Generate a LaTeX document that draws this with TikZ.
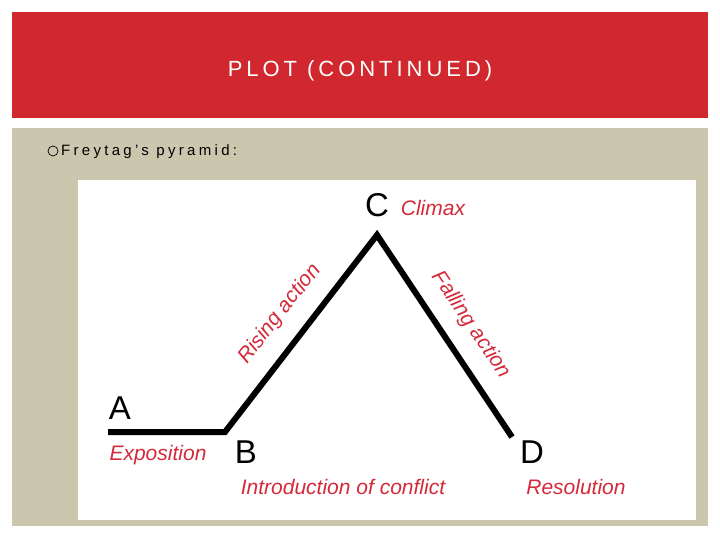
\documentclass[tikz,border=0pt]{standalone}
\usepackage{fontspec}
\setmainfont{Liberation Sans}
\definecolor{banner}{HTML}{D0282E}
\definecolor{panel}{HTML}{CBC7AF}
\definecolor{lab}{HTML}{D42A3A}
\begin{document}
\begin{tikzpicture}[x=1pt,y=-1pt,
  letter/.style={font=\fontsize{33}{33}\selectfont,text=black,inner sep=0},
  rlab/.style={font=\fontsize{21}{21}\selectfont\itshape,text=lab,inner sep=0},
  plotline/.style={line width=6pt,line join=miter,line cap=butt}]
\useasboundingbox (0,0) rectangle (720,540);
\fill[white] (0,0) rectangle (720,540);
\fill[banner] (12,12) rectangle (708,118);
\fill[panel] (12,128) rectangle (708,526);
\fill[white] (78,180) rectangle (696,520);
\node[text=white,font=\fontsize{22}{22}\selectfont\addfontfeature{LetterSpace=18}] (title) at (360,71) {PLOT (CONTINUED)};
\node[draw=black,circle,inner sep=0,minimum size=10pt,line width=0.7pt] (bul) at (53,151) {};
\node[anchor=west,font=\fontsize{15}{15}\selectfont\addfontfeature{LetterSpace=22},inner sep=0] (ft) at (61,152) {Freytag’s pyramid:};
\coordinate (p1) at (108,432);
\coordinate (p2) at (225,432);
\coordinate (p3) at (377,235);
\coordinate (p4) at (512,437);
\draw[plotline] (p1) -- (p2) -- (p3) -- (p4);
\node[letter] (A) at (120,408) {A};
\node[letter] (B) at (246,452) {B};
\node[letter] (C) at (377,205) {C};
\node[letter] (D) at (532,452) {D};
\node[rlab] (cl) at (433,208) {Climax};
\node[rlab] (ex) at (158,455) {Exposition};
\node[rlab] (ic) at (343,487) {Introduction of conflict};
\node[rlab] (re) at (576,487) {Resolution};
\node[rlab,rotate=52] (ra) at (280,314) {Rising action};
\node[rlab,rotate=-56] (fa) at (471,325) {Falling action};
\end{tikzpicture}
\end{document}
